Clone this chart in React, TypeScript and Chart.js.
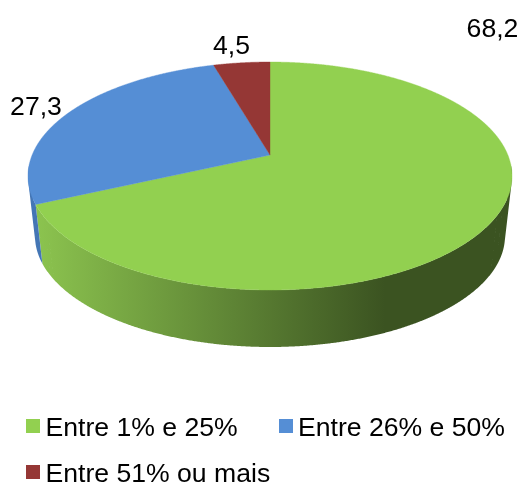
import React, { useEffect, useRef } from "react";
import { Chart, registerables } from "chart.js";

Chart.register(...registerables);

const categories = ["Entre 1% e 25%", "Entre 26% e 50%", "Entre 51% ou mais"];
const seriesValues = [68.2, 27.3, 4.5];
const sliceColors = ["#92d050", "#558ed5", "#953735"];
const wallColors = ["#92d050", "#4476b5", "#7a2c2a"];

const FONT = '26.6px "Liberation Sans", Arial, sans-serif';
const labelAnchors = [
  { x: 492.5, y: 37 },
  { x: 36, y: 115 },
  { x: 231.5, y: 54 },
];
const legendSpots = [
  { box: 26, text: 45.5, top: 419, base: 436 },
  { box: 279, text: 298, top: 419, base: 436 },
  { box: 26, text: 45.5, top: 465, base: 482 },
];
const top3d = { cx: 270, cy: 176, rx: 242, ry: 114 };
const bottom3d = { cx: 270, cy: 236, rx: 235, ry: 111 };
const tilt = 0.184;

// Perspective mapping of a point of the flat unit disc (y up) to the unit disc.
function project(u: number, v: number) {
  const w = 1 + tilt * v;
  return { x: (u * Math.sqrt(1 - tilt * tilt)) / w, y: (v + tilt) / w };
}
function rimPoint(angle: number, e: typeof top3d) {
  const t = angle + Math.PI / 2;
  const p = project(Math.sin(t), Math.cos(t));
  return { x: e.cx + p.x * e.rx, y: e.cy - p.y * e.ry };
}
function sample(a0: number, a1: number) {
  const n = Math.max(2, Math.ceil(Math.abs(a1 - a0) / (Math.PI / 720)));
  const out: number[] = [];
  for (let i = 0; i <= n; i++) out.push(a0 + ((a1 - a0) * i) / n);
  return out;
}

const pie3d = {
  id: "pie3d",
  beforeDatasetsDraw(chart: any) {
    const { ctx } = chart;
    const arcs = chart.getDatasetMeta(0).data;
    const wallGradient = ctx.createLinearGradient(35, 0, 385, 0);
    wallGradient.addColorStop(0, "#8cc44f");
    wallGradient.addColorStop(1, "#3b5321");

    ctx.save();
    arcs.forEach((arc: any, i: number) => {
      const angles = sample(arc.startAngle, arc.endAngle);
      ctx.beginPath();
      for (let k = 0; k < angles.length - 1; k++) {
        const p0 = rimPoint(angles[k], top3d);
        const p1 = rimPoint(angles[k + 1], top3d);
        if (p0.y < top3d.cy - 12) continue;
        const q0 = rimPoint(angles[k], bottom3d);
        const q1 = rimPoint(angles[k + 1], bottom3d);
        // keep every quad wound the same way so that overlaps never cancel
        const quad = [p0, p1, q1, q0];
        let area = 0;
        quad.forEach((a, n) => {
          const b = quad[(n + 1) % 4];
          area += a.x * b.y - b.x * a.y;
        });
        if (area < 0) quad.reverse();
        quad.forEach((a, n) => (n ? ctx.lineTo(a.x, a.y) : ctx.moveTo(a.x, a.y)));
        ctx.closePath();
      }
      ctx.fillStyle = i === 0 ? wallGradient : wallColors[i];
      ctx.fill();
    });

    const hub = project(0, 0);
    const hx = top3d.cx + hub.x * top3d.rx;
    const hy = top3d.cy - hub.y * top3d.ry;
    arcs.forEach((arc: any, i: number) => {
      ctx.beginPath();
      ctx.moveTo(hx, hy);
      sample(arc.startAngle, arc.endAngle).forEach((a) => {
        const p = rimPoint(a, top3d);
        ctx.lineTo(p.x, p.y);
      });
      ctx.closePath();
      ctx.fillStyle = sliceColors[i];
      ctx.fill();
      ctx.strokeStyle = sliceColors[i];
      ctx.lineWidth = 0.4;
      ctx.stroke();
    });
    ctx.restore();
    return false;
  },
  afterDraw(chart: any) {
    const { ctx } = chart;
    ctx.save();
    ctx.font = FONT;
    ctx.fillStyle = "#000000";
    ctx.textBaseline = "alphabetic";
    ctx.textAlign = "center";
    seriesValues.forEach((v, i) => {
      ctx.fillText(String(v).replace(".", ","), labelAnchors[i].x, labelAnchors[i].y);
    });
    ctx.textAlign = "left";
    categories.forEach((c, i) => {
      const s = legendSpots[i];
      ctx.fillStyle = sliceColors[i];
      ctx.fillRect(s.box, s.top, 14, 14);
      ctx.fillStyle = "#000000";
      ctx.fillText(c, s.text, s.base);
    });
    ctx.restore();
  },
};

export default function App() {
  const ref = useRef<HTMLCanvasElement | null>(null);
  useEffect(() => {
    document.body.style.margin = "0";
    const chart = new Chart(ref.current as HTMLCanvasElement, {
      type: "pie",
      data: {
        labels: categories,
        datasets: [{ data: seriesValues, backgroundColor: sliceColors, borderWidth: 0 }],
      },
      options: {
        responsive: false,
        animation: false,
        plugins: { legend: { display: false }, tooltip: { enabled: false } },
      },
      plugins: [pie3d],
    } as any);
    return () => chart.destroy();
  }, []);
  return (
    <div style={{ width: 520, height: 482, overflow: "hidden" }}>
      <canvas ref={ref} width={520} height={482} style={{ display: "block" }} />
    </div>
  );
}
